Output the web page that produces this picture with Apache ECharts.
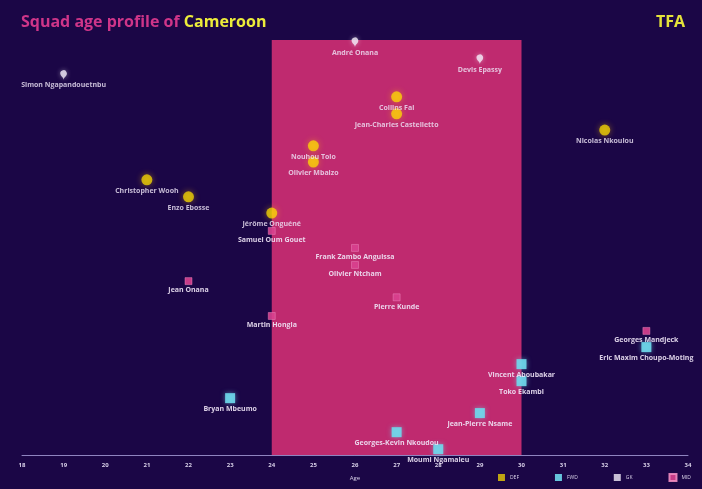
<!DOCTYPE html>
<html><head><meta charset="utf-8">
<script src="https://cdn.jsdelivr.net/npm/echarts@6/dist/echarts.min.js"></script>
<style>html,body{margin:0;padding:0;background:#1b0646;}#c{width:702px;height:489px;}</style>
</head><body><div id="c"></div>
<script>
// Age axis ticks
const ageTicks = [18,19,20,21,22,23,24,25,26,27,28,29,30,31,32,33,34];
const peakBand = [24, 30];

// Goalkeepers
const gkNames = ["Simon Ngapandouetnbu", "André Onana", "Devis Epassy"];
const gkAges = [19, 26, 29];
const gkVals = [90.4, 98.3, 94.2];

// Defenders
const dfNames = ["Collins Fai", "Jean-Charles Castelletto", "Nouhou Tolo", "Olivier Mbaizo", "Christopher Wooh", "Enzo Ebosse", "Jérôme Onguéné", "Nicolas Nkoulou"];
const dfAges = [27, 27, 25, 25, 21, 22, 24, 32];
const dfVals = [86.3, 82.2, 74.5, 70.6, 66.3, 62.2, 58.3, 78.3];

// Forwards
const fwNames = ["Bryan Mbeumo", "Vincent Aboubakar", "Toko Ekambi", "Jean-Pierre Nsame", "Georges-Kevin Nkoudou", "Moumi Ngamaleu", "Eric Maxim Choupo-Moting"];
const fwAges = [23, 30, 30, 29, 27, 28, 33];
const fwVals = [13.7, 21.9, 17.8, 10.1, 5.5, 1.4, 26.0];

// Midfielders
const mfNames = ["Jean Onana", "Martin Hongla", "Samuel Oum Gouet", "Frank Zambo Anguissa", "Olivier Ntcham", "Pierre Kunde", "Georges Mandjeck"];
const mfAges = [22, 24, 24, 26, 26, 27, 33];
const mfVals = [41.9, 33.5, 54.0, 49.9, 45.8, 38.0, 29.9];

function pts(names, ages, vals) {
  return names.map((n, i) => ({ name: n, value: [ages[i], vals[i]] }));
}

const labelStyle = {
  show: true, position: 'bottom', distance: 2,
  formatter: p => p.name,
  color: '#efe6f7', fontSize: 7, fontWeight: 'bold', fontFamily: 'Open Sans'
};

const chart = echarts.init(document.getElementById('c'));
chart.setOption({
  backgroundColor: '#1b0646',
  animation: false,
  title: [{
    text: '{a|Squad age profile of }{b|Cameroon}',
    left: 16, top: 9,
    textStyle: {
      rich: {
        a: { color: '#cf3589', fontSize: 16, fontWeight: 'bold', fontFamily: 'Open Sans' },
        b: { color: '#ecec3a', fontSize: 16, fontWeight: 'bold', fontFamily: 'Open Sans' }
      }
    }
  }, {
    text: 'TFA', right: 12, top: 9,
    textStyle: { color: '#e4e23a', fontSize: 16, fontWeight: 'bold', fontFamily: 'Open Sans' }
  }],
  legend: {
    right: 6, bottom: 2, itemWidth: 7, itemHeight: 7, itemGap: 36,
    icon: 'rect',
    textStyle: { color: '#d8d0e8', fontSize: 5, fontFamily: 'Open Sans' },
    data: ['DEF', 'FWD', 'GK', 'MID']
  },
  grid: { left: 22, right: 14, top: 40, bottom: 34 },
  xAxis: {
    type: 'value', min: ageTicks[0], max: ageTicks[ageTicks.length - 1], interval: 1,
    name: 'Age', nameLocation: 'middle', nameGap: 20,
    nameTextStyle: { color: '#d8d0e8', fontSize: 6, fontFamily: 'Open Sans' },
    axisLine: { show: true, lineStyle: { color: '#8f84c0', width: 1 } },
    axisTick: { show: false },
    splitLine: { show: false },
    axisLabel: { color: '#d8d0e8', fontSize: 6, fontWeight: 'bold', fontFamily: 'Open Sans', margin: 7 }
  },
  yAxis: {
    type: 'value', min: 0, max: 100,
    show: false, splitLine: { show: false }
  },
  series: [
    {
      name: 'DEF', type: 'scatter', symbol: 'circle', symbolSize: 11, z: 5,
      itemStyle: { color: 'rgba(255,226,0,0.9)', shadowBlur: 6, shadowColor: 'rgba(255,190,0,0.6)' },
      label: labelStyle,
      data: pts(dfNames, dfAges, dfVals),
      markArea: {
        silent: true,
        itemStyle: { color: '#bf2a6f' },
        label: { show: false },
        data: [[{ xAxis: peakBand[0] }, { xAxis: peakBand[1] }]]
      }
    },
    {
      name: 'FWD', type: 'scatter', symbol: 'rect', symbolSize: 10, z: 5,
      itemStyle: { color: '#6fd9ec', opacity: 0.9, shadowBlur: 5, shadowColor: 'rgba(110,220,240,0.6)' },
      label: labelStyle,
      data: pts(fwNames, fwAges, fwVals)
    },
    {
      name: 'GK', type: 'scatter', symbol: 'pin', symbolSize: 11, z: 5,
      itemStyle: { color: '#f4eefa', shadowBlur: 5, shadowColor: 'rgba(255,255,255,0.5)' },
      label: labelStyle,
      data: pts(gkNames, gkAges, gkVals)
    },
    {
      name: 'MID', type: 'scatter', symbol: 'rect', symbolSize: 7, z: 5,
      itemStyle: { color: '#d9418f', opacity: 0.9, borderColor: '#f08cc0', borderWidth: 0.5 },
      label: labelStyle,
      data: pts(mfNames, mfAges, mfVals)
    }
  ]
});
</script>
</body></html>
